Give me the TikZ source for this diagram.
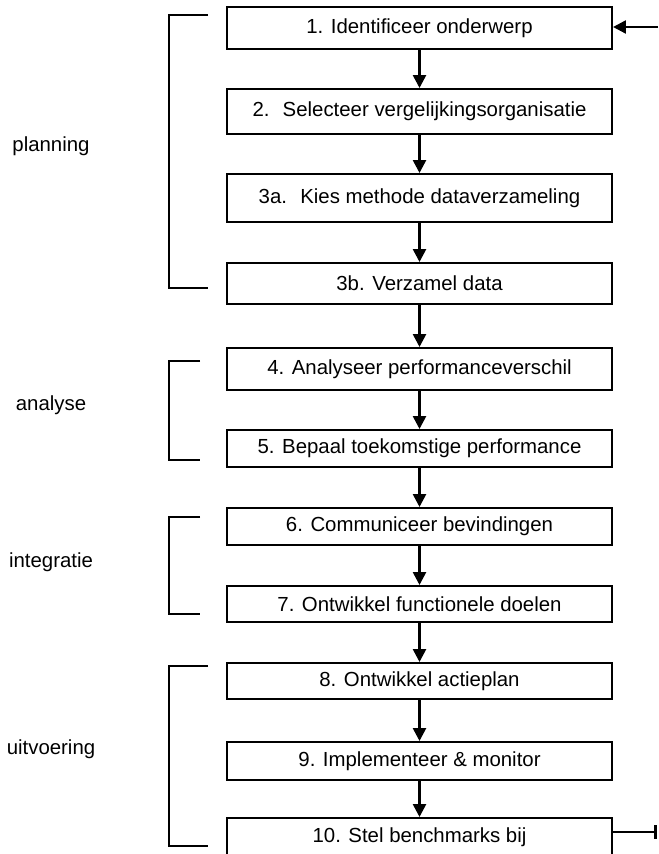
\documentclass[tikz,border=0pt]{standalone}
\usepackage{fontspec}
\setmainfont{Liberation Sans}
\usetikzlibrary{arrows.meta}

\tikzset{
  stap/.style={draw, line width=1.4pt, minimum width=9.625cm, inner sep=2pt, font=\fontsize{14.5}{17}\selectfont},
  pijl/.style={-{Triangle[length=0.32cm, width=0.32cm]}, line width=1.8pt},
  haak/.style={line width=1.3pt},
  fase/.style={font=\fontsize{14.5}{17}\selectfont},
}

\begin{document}
\begin{tikzpicture}[x=0.025cm, y=-0.025cm]
    \useasboundingbox (0,0) rectangle (658,854);

    % Steps
    \foreach \n/\y/\h/\t in {b1/28/1.05/{1. Identificeer onderwerp},
                             b2/111.5/1.125/{2.~ Selecteer vergelijkingsorganisatie},
                             b3a/198/1.2/{3a.~ Kies methode dataverzameling},
                             b3b/283.5/1.025/{3b. Verzamel data},
                             b4/369/1.05/{4. Analyseer performanceverschil},
                             b5/448.5/0.925/{5. Bepaal toekomstige performance},
                             b6/526.5/0.925/{6. Communiceer bevindingen},
                             b7/604/0.9/{7. Ontwikkel functionele doelen},
                             b8/681/0.9/{8. Ontwikkel actieplan},
                             b9/761/0.95/{9. Implementeer \& monitor},
                             b10/837/0.95/{10. Stel benchmarks bij}}
    \node[stap, minimum height=\h cm] (\n) at (419.5,\y) {\t};

    % Flow
    \foreach \a/\b in {b1/b2, b2/b3a, b3a/b3b, b3b/b4, b4/b5, b5/b6, b6/b7, b7/b8, b8/b9, b9/b10}
    \draw[pijl] (\a.south) -- (\b.north);

    % Loop ends
    \coordinate (in) at (658,27);
    \coordinate (uit) at (657,832);
    \draw[pijl] (in) -- (in -| b1.east);
    \draw[line width=1.8pt, -{Bar[width=0.33cm, line width=1.8pt]}] (uit -| b10.east) -- (uit);

    % Phases
    \foreach \boven/\onder/\eind in {15/288/208, 361/460/200, 517/614/200, 666/846/208}
    \draw[haak] (\eind,\boven) -- (169,\boven) -- (169,\onder) -- (\eind,\onder);
    \foreach \n/\y in {planning/146, analyse/405, integratie/562, uitvoering/749}
    \node[fase] (\n) at (51,\y) {\n};
\end{tikzpicture}
\end{document}
